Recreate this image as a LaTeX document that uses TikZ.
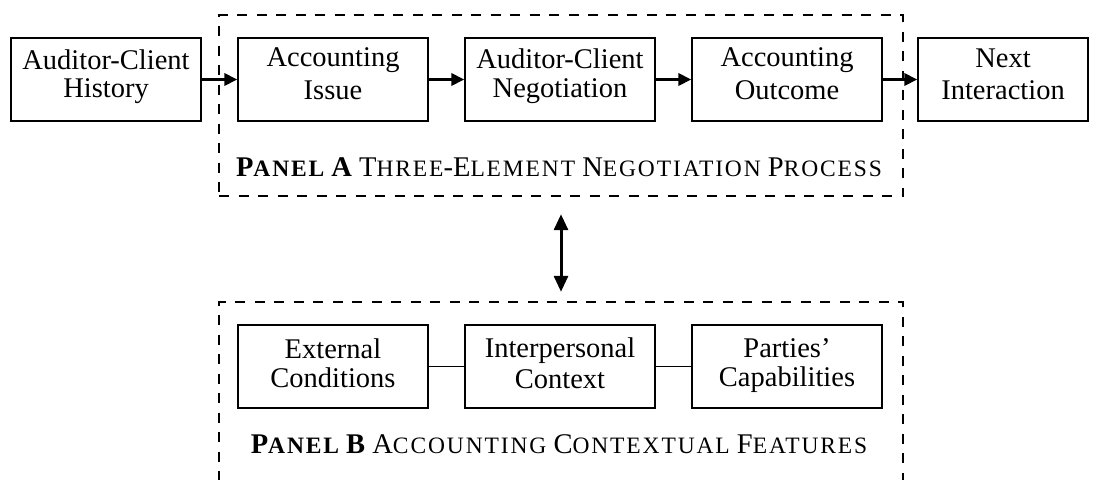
\documentclass[tikz,border=0pt]{standalone}
\usepackage{fontspec}
\setmainfont{Liberation Serif}
\newfontfamily\trackedfont[LetterSpace=8]{Liberation Serif}
\usetikzlibrary{arrows.meta}

% hand-made small capitals: tracked capitals at a reduced size
\newcommand{\smc}[1]{{\trackedfont\fontsize{23.5}{24}\selectfont #1}}

% two centred lines: #1 rise of the first baseline above the box centre,
% #2 distance between the baselines, #3 and #4 the two lines
\newcommand{\pair}[4]{\raisebox{#1}[0pt][0pt]{\vtop{\baselineskip=#2\lineskiplimit=-100pt
  \halign{\hfil##\hfil\cr#3\cr#4\cr}}}}

\tikzset{
  stage/.style={draw, line width=1.2pt, minimum width=190pt, minimum height=83pt,
    inner sep=0pt, font=\fontsize{28.5}{33}\selectfont},
  panel/.style={draw, line width=2.4pt, dash pattern=on 10pt off 9.5pt},
  flow/.style={line width=3pt, -{Triangle[length=13pt,width=12pt]}},
  both/.style={line width=3pt, {Triangle[length=16pt,width=14pt]}-{Triangle[length=16pt,width=14pt]}},
  link/.style={line width=1pt},
  caption/.style={anchor=base, inner sep=0pt, font=\fontsize{28.5}{33}\selectfont}
}

\begin{document}
\begin{tikzpicture}[x=1pt, y=-1pt]
  \useasboundingbox (0,0) rectangle (1099,479);

  % Panel frames
  \node[panel, minimum width=684pt, minimum height=181pt] (pA) at (561,105.5) {};
  \node[panel, minimum width=684pt, minimum height=218pt] (pB) at (561,411) {};

  % Negotiation process
  \node[stage] (hist) at (106,79.5) {\pair{10.5pt}{28pt}{Auditor-Client}{History}};
  \node[stage] (issue) at (333,79.5) {\pair{13pt}{33pt}{Accounting}{Issue}};
  \node[stage] (nego) at (560,79.5) {\pair{11pt}{29pt}{Auditor-Client}{Negotiation}};
  \node[stage] (outc) at (787,79.5) {\pair{13pt}{33pt}{Accounting}{Outcome}};
  \node[stage, minimum width=170pt] (next) at (1003,79.5) {\pair{12pt}{32pt}{Next}{Interaction}};

  \draw[flow] (hist) -- (issue);
  \draw[flow] (issue) -- (nego);
  \draw[flow] (nego) -- (outc);
  \draw[flow] (outc) -- (next);

  \node[caption] (capA) at (559,176) {\textbf{P\smc{ANEL} A} T\smc{HREE}-E\smc{LEMENT} N\smc{EGOTIATION} P\smc{ROCESS}};

  % Contextual features
  \node[stage] (ext) at (333,366.5) {\pair{8.5pt}{29pt}{External}{Conditions}};
  \node[stage] (inter) at (560,366.5) {\pair{9.5pt}{31pt}{Interpersonal}{Context}};
  \node[stage] (cap) at (787,366.5) {\pair{9pt}{29pt}{Parties'}{Capabilities}};

  \draw[link] (ext) -- (inter);
  \draw[link] (inter) -- (cap);

  \node[caption] (capB) at (559,453) {\textbf{P\smc{ANEL} B} A\smc{CCOUNTING} C\smc{ONTEXTUAL} F\smc{EATURES}};

  % Link between the two panels
  \coordinate (upper) at ([yshift=-17pt]pA.south);
  \coordinate (lower) at ([yshift=9pt]pB.north);
  \draw[both] (upper) -- (lower);
\end{tikzpicture}
\end{document}
